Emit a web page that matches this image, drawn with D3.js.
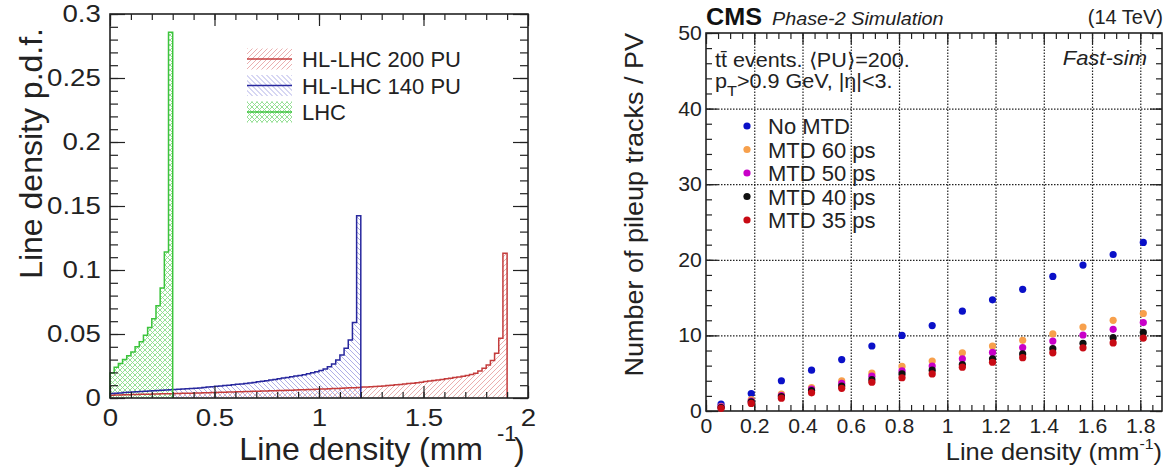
<!DOCTYPE html>
<html>
<head>
<meta charset="UTF-8">
<title>Line density and pileup tracks</title>
<style>
  body { margin: 0; padding: 0; background: #fff; }
  svg { display: block; font-family: 'Liberation Sans', Arial, sans-serif; color: #222; }
</style>
</head>
<body>
<svg></svg>
<script src="https://d3js.org/d3.v7.min.js"></script>
<script>

// ---- left panel data: line density p.d.f., bins 0.02 wide from 0 ----
const binWidth = 0.02;
const lhc = [0.0195, 0.024, 0.027, 0.030, 0.033, 0.036, 0.040, 0.044, 0.049, 0.055,
             0.062, 0.072, 0.086, 0.114, 0.2857];
const hl140 = [0.0036, 0.0038, 0.0040, 0.0042, 0.0044, 0.0046, 0.0048, 0.0050, 0.0052, 0.0054,
               0.0056, 0.0058, 0.0060, 0.0062, 0.0064, 0.0066, 0.0068, 0.0070, 0.0072, 0.0074,
               0.0077, 0.0079, 0.0082, 0.0085, 0.0088, 0.0091, 0.0094, 0.0097, 0.0100, 0.0103,
               0.0107, 0.0110, 0.0114, 0.0118, 0.0122, 0.0126, 0.0130, 0.0135, 0.0140, 0.0145,
               0.0151, 0.0156, 0.0161, 0.0166, 0.0171, 0.0176, 0.0182, 0.0189, 0.0197, 0.0205,
               0.0214, 0.0226, 0.0245, 0.0266, 0.0297, 0.0336, 0.0388, 0.0453, 0.0589, 0.1424];
const hl200 = [0.0022, 0.0023, 0.0024, 0.0025, 0.0026, 0.0027, 0.0028, 0.0029, 0.0030, 0.0030,
               0.0031, 0.0032, 0.0033, 0.0034, 0.0034, 0.0035, 0.0036, 0.0037, 0.0037, 0.0038,
               0.0039, 0.0040, 0.0041, 0.0041, 0.0042, 0.0043, 0.0044, 0.0045, 0.0046, 0.0047,
               0.0048, 0.0049, 0.0050, 0.0051, 0.0052, 0.0053, 0.0054, 0.0055, 0.0056, 0.0057,
               0.0058, 0.0059, 0.0060, 0.0061, 0.0063, 0.0064, 0.0065, 0.0066, 0.0067, 0.0068,
               0.0070, 0.0071, 0.0072, 0.0074, 0.0075, 0.0077, 0.0078, 0.0080, 0.0081, 0.0083,
               0.0085, 0.0086, 0.0088, 0.0090, 0.0092, 0.0094, 0.0097, 0.0100, 0.0103, 0.0106,
               0.0109, 0.0113, 0.0116, 0.0120, 0.0124, 0.0128, 0.0132, 0.0136, 0.0140, 0.0145,
               0.0150, 0.0155, 0.0160, 0.0165, 0.0170, 0.0176, 0.0183, 0.0193, 0.0211, 0.0232,
               0.0258, 0.0292, 0.0349, 0.0466, 0.1130];
const histNames = ["HL-LHC 200 PU", "HL-LHC 140 PU", "LHC"];
const histColors = ["#c43c3c", "#28289e", "#3cc43c"];
const leftYTicks = [0, 0.05, 0.1, 0.15, 0.2, 0.25, 0.3];
const leftXTicks = [0, 0.5, 1, 1.5, 2];

// ---- right panel data: pileup tracks per PV vs line density ----
const density = [0.0625, 0.1875, 0.3125, 0.4375, 0.5625, 0.6875, 0.8125, 0.9375,
                 1.0625, 1.1875, 1.3125, 1.4375, 1.5625, 1.6875, 1.8125];
const noMTD = [0.9, 2.3, 4.0, 5.4, 6.8, 8.6, 10.0, 11.3, 13.2, 14.7, 16.1, 17.8, 19.3, 20.7, 22.3];
const mtd60 = [0.6, 1.5, 2.25, 3.1, 4.0, 5.0, 5.9, 6.6, 7.7, 8.6, 9.35, 10.2, 11.1, 12.0, 12.9];
const mtd50 = [0.55, 1.3, 2.05, 2.9, 3.65, 4.6, 5.3, 5.95, 6.9, 7.75, 8.4, 9.25, 10.05, 10.8, 11.7];
const mtd40 = [0.45, 1.2, 1.9, 2.7, 3.3, 4.15, 4.9, 5.4, 6.15, 6.9, 7.55, 8.25, 8.95, 9.7, 10.4];
const mtd35 = [0.35, 1.0, 1.7, 2.4, 3.0, 3.8, 4.4, 4.9, 5.8, 6.45, 7.05, 7.7, 8.35, 9.0, 9.65];
const seriesNames = ["No MTD", "MTD 60 ps", "MTD 50 ps", "MTD 40 ps", "MTD 35 ps"];
const seriesColors = ["#0a10c8", "#f7a04c", "#c800c8", "#111111", "#c80a14"];
const rightYTicks = [0, 10, 20, 30, 40, 50];
const rightXTicks = [0, 0.2, 0.4, 0.6, 0.8, 1, 1.2, 1.4, 1.6, 1.8];

const W = 1167, H = 471;
const svg = d3.select("svg").attr("width", W).attr("height", H);
svg.append("rect").attr("width", W).attr("height", H).attr("fill", "#fff");

// text helper: ROOT-ish labels look a bit wider than Arial, so allow a horizontal stretch
function label(g, o) {
    const t = g.append("text")
        .attr("transform", `translate(${o.x},${o.y}) rotate(${o.rot || 0}) scale(${o.sx || 1},1)`)
        .attr("font-size", o.size)
        .attr("text-anchor", o.anchor || "start")
        .attr("fill", o.fill || "#222");
    if (o.weight) t.attr("font-weight", o.weight);
    if (o.italic) t.attr("font-style", "italic");
    if (o.text !== undefined) t.text(o.text);
    return t;
}

// inward ticks on all four sides, labels on bottom/left
function frameAxes(g, x, y, o) {
    const [x0, x1] = x.range(), [y0, y1] = y.range();
    const noDomain = s => s.select(".domain").remove();
    const sides = [
        [d3.axisBottom, x, `translate(0,${y0})`, o.xMajor, o.xMinor, o.xLen],
        [d3.axisTop, x, `translate(0,${y1})`, o.xMajor, o.xMinor, o.xLen],
        [d3.axisLeft, y, `translate(${x0},0)`, o.yMajor, o.yMinor, o.yLen],
        [d3.axisRight, y, `translate(${x1},0)`, o.yMajor, o.yMinor, o.yLen]
    ];
    sides.forEach(([ax, sc, tr, maj, min, len]) => {
        g.append("g").attr("transform", tr)
            .call(ax(sc).tickValues(min).tickSize(-len[1]).tickFormat(""))
            .call(noDomain);
        g.append("g").attr("transform", tr)
            .call(ax(sc).tickValues(maj).tickSize(-len[0]).tickFormat(""))
            .call(noDomain);
    });
    g.selectAll(".tick line").attr("stroke", "#222").attr("stroke-width", 1.2);

    const xl = g.append("g").attr("transform", `translate(0,${y0})`)
        .call(d3.axisBottom(x).tickValues(o.xMajor).tickSize(0).tickPadding(o.xPad).tickFormat(d => String(d)))
        .call(noDomain);
    xl.selectAll("text").attr("font-size", o.xFont).attr("fill", "#222")
        .attr("font-family", "'Liberation Sans', Arial, sans-serif")
        .attr("transform", `scale(${o.sx},1)`);
    const yl = g.append("g").attr("transform", `translate(${x0},0)`)
        .call(d3.axisLeft(y).tickValues(o.yMajor).tickSize(0).tickPadding(o.yPad).tickFormat(d => String(d)))
        .call(noDomain);
    yl.selectAll("text").attr("font-size", o.yFont).attr("fill", "#222")
        .attr("font-family", "'Liberation Sans', Arial, sans-serif")
        .attr("transform", `scale(${o.sx},1)`);

    g.append("rect")
        .attr("x", x0).attr("y", y1)
        .attr("width", x1 - x0).attr("height", y0 - y1)
        .attr("fill", "none").attr("stroke", "#222").attr("stroke-width", 1.6);
}

// hatch patterns
const defs = svg.append("defs");
function hatch(id, color, dirs) {
    const p = defs.append("pattern").attr("id", id)
        .attr("patternUnits", "userSpaceOnUse").attr("width", 5).attr("height", 5);
    dirs.forEach(dir => p.append("path")
        .attr("d", dir === "/" ? "M-1,1 l2,-2 M0,5 l5,-5 M4,6 l2,-2" : "M-1,4 l2,2 M0,0 l5,5 M4,-1 l2,2")
        .attr("stroke", color).attr("stroke-width", 0.9).attr("fill", "none"));
}
hatch("h200", "#e8a6a6", ["/"]);
hatch("h140", "#a6a6e4", ["\\"]);
hatch("hlhc", "#8adc8a", ["/", "\\"]);
const histPatterns = ["url(#h200)", "url(#h140)", "url(#hlhc)"];

// =============== LEFT PANEL ===============
const xL = d3.scaleLinear().domain([0, 2]).range([110, 528]);
const yL = d3.scaleLinear().domain([0, 0.3]).range([398, 14]);
const left = svg.append("g");

function stepPoints(vals) {
    const pts = [[0, 0]];
    vals.forEach((v, i) => { pts.push([i * binWidth, v], [(i + 1) * binWidth, v]); });
    pts.push([vals.length * binWidth, 0]);
    return pts;
}
const stepLine = d3.line().x(d => xL(d[0])).y(d => yL(d[1]));
const hists = [hl200, hl140, lhc];

left.append("g").selectAll("path.fill")
    .data(hists).join("path")
    .attr("d", d => stepLine(stepPoints(d)) + "Z")
    .attr("fill", (d, i) => histPatterns[i])
    .attr("stroke", "none");
left.append("g").selectAll("path.line")
    .data(hists).join("path")
    .attr("d", d => stepLine(stepPoints(d)))
    .attr("fill", "none")
    .attr("stroke", (d, i) => histColors[i])
    .attr("stroke-width", 1.5);

frameAxes(left, xL, yL, {
    xMajor: leftXTicks, xMinor: d3.range(0, 2.001, 0.1), xLen: [12, 6],
    yMajor: leftYTicks, yMinor: d3.range(0, 0.3001, 0.01), yLen: [15, 8],
    xFont: 24, yFont: 24, xPad: 11, yPad: 8, sx: 1.15
});

// left legend
const legL = left.append("g").selectAll("g")
    .data(histNames).join("g")
    .attr("transform", (d, i) => `translate(247,${59 + i * 26.5})`);
legL.append("rect").attr("x", 0).attr("y", -10.5).attr("width", 45).attr("height", 21)
    .attr("fill", (d, i) => histPatterns[i]);
legL.append("line").attr("x1", 0).attr("x2", 45).attr("y1", 0).attr("y2", 0)
    .attr("stroke", (d, i) => histColors[i]).attr("stroke-width", 1.5);
legL.each(function (d) {
    label(d3.select(this), { x: 55, y: 8, text: d, size: 22 });
});

// left titles
label(left, { x: 42, y: 28, rot: -90, text: "Line density p.d.f.", size: 32, anchor: "end" });
label(left, { x: 483, y: 460, text: "Line density (mm", size: 32, anchor: "end" });
label(left, { x: 497, y: 441, text: "-1", size: 22 });
label(left, { x: 514, y: 460, text: ")", size: 32 });

// =============== RIGHT PANEL ===============
const xR = d3.scaleLinear().domain([0, 1.89]).range([706, 1162]);
const yR = d3.scaleLinear().domain([0, 50]).range([411, 33]);
const right = svg.append("g");

// dotted grid
const grid = right.append("g");
grid.append("g").attr("transform", `translate(0,${yR(0)})`)
    .call(d3.axisBottom(xR).tickValues(rightXTicks.slice(1)).tickSize(-(yR(0) - yR(50))).tickFormat(""))
    .call(s => s.select(".domain").remove());
grid.append("g").attr("transform", `translate(${xR(0)},0)`)
    .call(d3.axisLeft(yR).tickValues(rightYTicks.slice(1, -1)).tickSize(-(xR(1.89) - xR(0))).tickFormat(""))
    .call(s => s.select(".domain").remove());
grid.selectAll("line").attr("stroke", "#333").attr("stroke-width", 1).attr("stroke-dasharray", "1.5,1.5");

frameAxes(right, xR, yR, {
    xMajor: rightXTicks, xMinor: d3.range(0, 1.89, 0.05), xLen: [11, 6],
    yMajor: rightYTicks, yMinor: d3.range(0, 51, 2), yLen: [12, 6],
    xFont: 20, yFont: 20, xPad: 8, yPad: 4, sx: 1.06
});

// markers
const series = [noMTD, mtd60, mtd50, mtd40, mtd35];
right.append("g").selectAll("g")
    .data(series).join("g")
    .attr("fill", (d, i) => seriesColors[i])
    .selectAll("circle")
    .data(d => d.map((v, j) => [density[j], v]))
    .join("circle")
    .attr("cx", d => xR(d[0]))
    .attr("cy", d => yR(d[1]))
    .attr("r", 3.6);

// right legend
const legR = right.append("g").selectAll("g")
    .data(seriesNames).join("g")
    .attr("transform", (d, i) => `translate(747,${126 + i * 23.5})`);
legR.append("circle").attr("r", 3.6).attr("fill", (d, i) => seriesColors[i]);
legR.each(function (d) {
    label(d3.select(this), { x: 21, y: 8, text: d, size: 22 });
});

// header + annotations
label(right, { x: 706, y: 25, text: "CMS", size: 24, weight: "bold", sx: 1.05, fill: "#111" });
label(right, { x: 772, y: 25, text: "Phase-2 Simulation", size: 18, italic: true, sx: 1.1 });
label(right, { x: 1163, y: 24, text: "(14 TeV)", size: 20, anchor: "end" });
label(right, { x: 715, y: 67, text: "tt\u0304 events. \u27E8PU\u27E9=200.", size: 20, sx: 1.08 });
const pt = label(right, { x: 715, y: 88, size: 20, sx: 1.08 });
pt.append("tspan").text("p");
pt.append("tspan").attr("font-size", 15).attr("dy", 8).text("T");
pt.append("tspan").attr("dy", -8).text(">0.9 GeV, |\u03B7|<3.");
label(right, { x: 1147, y: 65, text: "Fast-sim", size: 20, italic: true, anchor: "end", sx: 1.1 });

// right titles
label(right, { x: 643, y: 33, rot: -90, text: "Number of pileup tracks / PV", size: 25, anchor: "end", sx: 1.08 });
const xt = label(right, { x: 1162, y: 460, size: 24, anchor: "end", sx: 1.06 });
xt.append("tspan").text("Line density (mm");
xt.append("tspan").attr("font-size", 15).attr("dy", -11).text("-1");
xt.append("tspan").attr("dy", 11).text(")");

</script>
</body>
</html>
